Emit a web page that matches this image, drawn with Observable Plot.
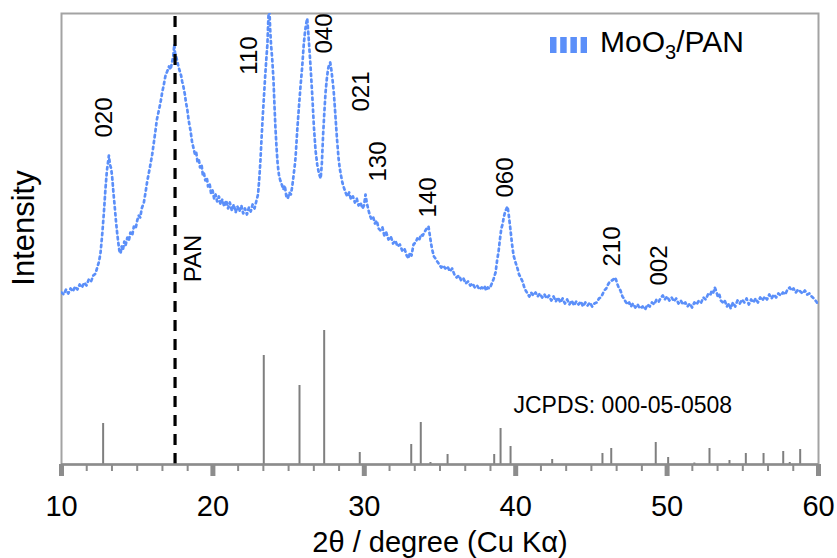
<!DOCTYPE html>
<html><head><meta charset="utf-8">
<script src="https://cdn.jsdelivr.net/npm/d3@7"></script>
<script src="https://cdn.jsdelivr.net/npm/@observablehq/plot@0.6"></script>
<style>body{margin:0;background:#fff}#chart{width:837px;height:558px}</style>
</head><body><div id="chart"></div>
<script>
// Measured pattern MoO3/PAN (2θ in degrees, intensity in arbitrary units)
const twoTheta = [10.0,10.15,10.3,10.45,10.6,10.75,10.9,11.05,11.2,11.35,11.5,11.65,11.8,11.95,12.1,12.25,12.36,12.48,12.58,12.7,12.8,12.9,13.0,13.08,13.13,13.2,13.28,13.35,13.43,13.52,13.6,13.68,13.75,13.82,13.9,13.97,14.05,14.15,14.23,14.35,14.45,14.55,14.67,14.78,14.9,15.0,15.1,15.2,15.3,15.44,15.55,15.66,15.75,15.85,15.99,16.1,16.2,16.3,16.4,16.54,16.65,16.76,16.87,16.98,17.1,17.2,17.3,17.38,17.45,17.5,17.55,17.64,17.72,17.8,17.9,17.97,18.05,18.15,18.22,18.3,18.4,18.52,18.62,18.74,18.82,18.9,18.98,19.07,19.15,19.25,19.33,19.4,19.5,19.6,19.68,19.78,19.88,19.98,20.08,20.18,20.28,20.4,20.5,20.62,20.75,20.88,21.0,21.12,21.25,21.38,21.5,21.62,21.75,21.88,22.0,22.12,22.25,22.38,22.5,22.62,22.75,22.88,22.98,23.06,23.14,23.22,23.3,23.38,23.46,23.54,23.6,23.66,23.72,23.78,23.84,23.92,24.0,24.07,24.13,24.2,24.28,24.36,24.45,24.55,24.65,24.75,24.85,24.95,25.05,25.15,25.24,25.32,25.4,25.46,25.57,25.68,25.79,25.9,26.0,26.08,26.15,26.23,26.3,26.38,26.45,26.56,26.67,26.78,26.89,26.98,27.05,27.12,27.2,27.28,27.36,27.44,27.52,27.6,27.68,27.75,27.82,27.9,27.98,28.06,28.14,28.21,28.3,28.38,28.45,28.55,28.65,28.76,28.88,29.0,29.12,29.25,29.38,29.5,29.62,29.75,29.88,29.98,30.08,30.16,30.25,30.35,30.45,30.58,30.7,30.82,30.95,31.07,31.2,31.32,31.45,31.6,31.75,31.9,32.05,32.2,32.35,32.5,32.65,32.8,32.92,33.02,33.12,33.25,33.38,33.5,33.62,33.74,33.86,34.0,34.12,34.24,34.34,34.42,34.5,34.6,34.7,34.82,34.95,35.08,35.2,35.35,35.5,35.65,35.8,35.95,36.1,36.25,36.4,36.55,36.7,36.85,37.0,37.15,37.3,37.45,37.6,37.75,37.85,37.95,38.05,38.15,38.25,38.34,38.45,38.55,38.67,38.78,38.86,38.95,39.05,39.13,39.22,39.33,39.4,39.46,39.52,39.6,39.66,39.76,39.86,39.95,40.05,40.12,40.22,40.33,40.45,40.55,40.66,40.78,40.9,41.02,41.15,41.31,41.45,41.6,41.75,41.9,42.05,42.2,42.35,42.5,42.65,42.8,42.95,43.1,43.25,43.4,43.55,43.7,43.85,44.0,44.15,44.3,44.45,44.6,44.75,44.9,45.05,45.2,45.35,45.5,45.62,45.73,45.85,45.98,46.1,46.22,46.35,46.45,46.55,46.62,46.7,46.8,46.92,47.05,47.15,47.25,47.38,47.5,47.62,47.75,47.9,48.05,48.2,48.38,48.55,48.7,48.85,49.0,49.15,49.3,49.45,49.6,49.72,49.85,50.0,50.15,50.3,50.45,50.6,50.75,50.9,51.05,51.2,51.35,51.5,51.65,51.8,51.95,52.1,52.25,52.4,52.55,52.7,52.85,52.95,53.05,53.15,53.25,53.35,53.45,53.55,53.68,53.8,53.95,54.1,54.2,54.35,54.5,54.65,54.8,54.95,55.1,55.25,55.4,55.55,55.7,55.85,56.0,56.15,56.3,56.45,56.6,56.75,56.9,57.05,57.2,57.35,57.5,57.65,57.8,57.95,58.1,58.2,58.35,58.5,58.65,58.8,58.95,59.1,59.25,59.4,59.55,59.7,59.85,59.95,60.0];
const intensity = [172,170,175,171,176,173,178,175,180,177,182,179,185,183,189,191,197,203,212,232,252,275,294,303,309,300,296,287,272,257,243,231,222,214,211,218,214,223,219,227,224,232,229,238,236,244,249,247,256,262,272,283,290,298,310,322,333,345,352,362,372,380,389,393,398,395,402,408,420,412,409,404,398,394,389,383,378,370,362,356,344,334,323,315,310,312,303,305,297,300,290,292,284,287,278,281,271,274,266,270,263,268,260,265,258,264,256,262,254,260,252,258,253,259,251,256,250,257,253,260,256,264,270,285,304,328,350,370,390,408,420,445,462,436,420,405,385,358,337,318,300,290,284,280,275,279,268,266,272,270,278,288,298,307,334,357,379,398,420,432,440,446,432,414,398,370,338,314,300,293,289,286,302,330,352,372,385,395,400,402,395,385,373,356,338,323,306,296,290,282,277,272,268,272,265,268,262,266,259,262,256,259,270,262,256,250,246,248,241,244,236,234,237,229,232,225,228,221,224,218,220,214,216,209,206,212,209,220,222,226,224,230,229,233,236,238,228,220,214,208,206,203,200,197,199,196,198,193,196,190,187,189,184,186,181,183,179,181,177,179,175,177,176,178,174,177,176,178,182,186,192,205,212,224,236,240,248,254,256,258,252,242,234,220,209,204,199,196,190,187,183,178,174,171,168,172,169,172,168,171,167,170,166,169,164,168,163,167,162,166,161,165,160,164,159,163,160,163,158,162,159,162,158,161,162,166,167,170,174,176,180,183,184,185,187,185,181,177,174,168,166,163,160,162,158,161,157,160,156,158,155,160,158,162,160,165,163,167,169,165,168,164,167,163,166,161,164,160,162,158,161,157,162,160,164,162,167,165,170,169,174,172,177,173,168,170,164,162,164,158,161,156,162,158,164,161,165,162,166,160,165,162,166,162,167,164,168,165,170,166,170,167,171,169,172,170,175,177,174,176,172,175,173,171,174,170,171,168,166,163,161,160];

// JCPDS 000-05-0508 reference lines
const refTheta = [12.75,23.36,25.72,27.35,29.70,33.10,33.73,34.37,35.50,38.58,39.00,39.66,42.41,45.73,46.31,49.25,50.07,51.80,52.80,54.12,55.20,56.37,57.67,58.10,58.79];
const refHeight = [41,109,79,134,12,20,42,2,10,10,36,18,5,11,16,22,7,1.5,16,4,11,11,13,2,15];

// Miller index annotations
const hklText = ["020","110","040","021","130","140","060","210","002"];
const hklTheta = [12.84,22.42,27.37,29.82,30.94,34.24,39.33,46.39,49.50];
const hklLevel = [347,409,431,373,303,267,287,218,199];

const panTheta = 17.5;
const xTicks = [10,20,30,40,50,60];

const curve = twoTheta.map((t,i)=>({t, v: intensity[i]}));
const refs = refTheta.map((t,i)=>({t, h: refHeight[i]}));
const hkl = hklText.map((s,i)=>({s, t: hklTheta[i], v: hklLevel[i]}));
const minorTicks = d3.range(0,31).map(i => 10 + i*10/6);

const gray = "#8c8c8c";
const blue = "#5b8ff9";
const font = "'Liberation Sans', Arial, Helvetica, sans-serif";

const plot = Plot.plot({
  width: 837, height: 558,
  marginLeft: 61, marginRight: 19, marginTop: 13, marginBottom: 94,
  style: {fontFamily: font, background: "white", color: "black"},
  x: {domain: [10,60]},
  y: {domain: [0,451], axis: null},
  marks: [
    Plot.frame({stroke: "#a3a3a3", strokeWidth: 2}),
    Plot.ruleX(refs, {x: "t", y1: 0, y2: "h", stroke: "#7f7f7f", strokeWidth: 2}),
    Plot.line(curve, {x: "t", y: "v", stroke: blue, strokeWidth: 2.7, strokeDasharray: "2.4,3.6", clip: true}),
    Plot.ruleX([panTheta], {y1: 0, y2: 451, stroke: "black", strokeWidth: 3.2, strokeDasharray: "11,8"}),
    Plot.ruleY([0], {stroke: gray, strokeWidth: 2.5}),
    Plot.axisX({ticks: minorTicks, tickSize: 7, strokeWidth: 2, stroke: gray, text: null, label: null}),
    Plot.axisX({ticks: xTicks, tickSize: 12, strokeWidth: 5, stroke: gray, text: null, label: null}),
    Plot.axisX({ticks: xTicks, tickSize: 0, tickPadding: 31, fontSize: 29, label: null, fill: "black"}),
    Plot.text(["2θ / degree (Cu Kα)"], {frameAnchor: "bottom", lineAnchor: "middle", textAnchor: "middle", dy: 78, fontSize: 29, fill: "black"}),
    Plot.text(["Intensity"], {frameAnchor: "left", textAnchor: "middle", lineAnchor: "middle", rotate: -90, dx: -37, dy: -11, fontSize: 31, fill: "black"}),
    Plot.text(hkl, {x: "t", y: "v", text: "s", rotate: -90, fontSize: 24, fill: "black"}),
    Plot.text(["PAN"], {x: 18.72, y: 206, rotate: -90, fontSize: 24, fill: "black"}),
    Plot.text(["JCPDS: 000-05-0508"], {x: 47.07, y: 59, fontSize: 23, fill: "black"})
  ]
});

// Legend (inside the plot, top right)
const svg = d3.select(plot);
const lg = svg.append("g").attr("text-anchor", "start");
lg.append("line").attr("x1", 550).attr("x2", 587).attr("y1", 45).attr("y2", 45)
  .attr("stroke", blue).attr("stroke-width", 16).attr("stroke-dasharray", "6.5,3.7");
const lt = lg.append("text").attr("x", 600).attr("y", 52).attr("text-anchor", "start")
  .attr("font-family", font).attr("font-size", 30).attr("fill", "black");
lt.append("tspan").text("MoO");
lt.append("tspan").attr("font-size", 20).attr("dy", 7).text("3");
lt.append("tspan").attr("dy", -7).text("/PAN");

document.getElementById("chart").appendChild(plot);
</script>
</body></html>
